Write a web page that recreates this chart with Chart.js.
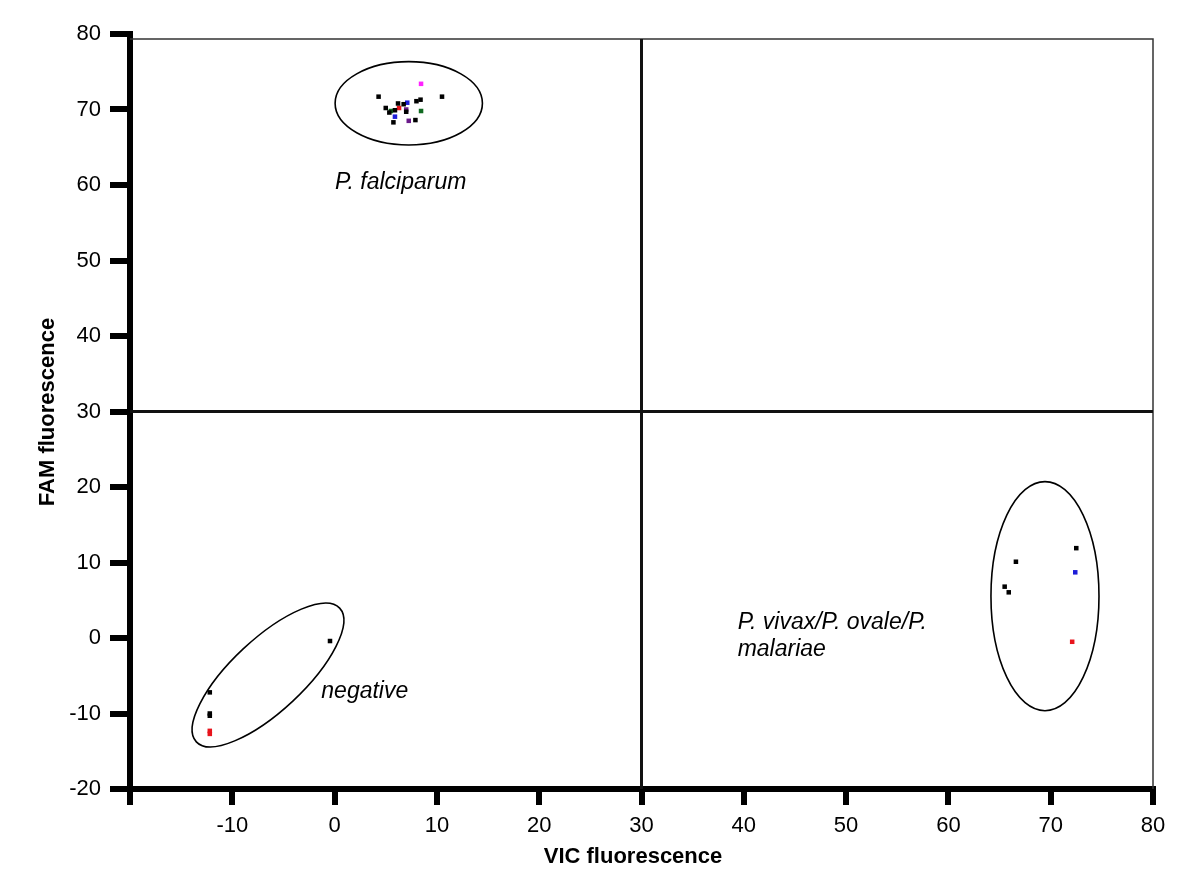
<!DOCTYPE html>
<html>
<head>
<meta charset="utf-8">
<script src="https://cdn.jsdelivr.net/npm/chart.js@4/dist/chart.umd.min.js"></script>
<style>
html,body{margin:0;padding:0;background:#fff;}
#wrap{width:1200px;height:888px;}
</style>
</head>
<body>
<div id="wrap"><canvas id="c" width="1200" height="888"></canvas></div>
<script>
// ---- data (VIC = x, FAM = y) ----
const tickValues = [-20, -10, 0, 10, 20, 30, 40, 50, 60, 70, 80];
const blackVIC = [4.3, 10.5, 5.0, 5.35, 5.9, 6.2, 6.75, 7.0, 5.75, 7.9, 8.0, 8.4, 72.5, 66.6, 65.5, 65.9, -0.45, -12.2, -12.2, -12.2];
const blackFAM = [71.7, 71.7, 70.2, 69.6, 69.9, 70.8, 70.7, 69.7, 68.3, 68.6, 71.1, 71.3, 11.9, 10.1, 6.8, 6.05, -0.4, -7.2, -10.0, -10.3];
const redVIC = [6.3, 72.1, -12.2, -12.2];
const redFAM = [70.2, -0.5, -12.3, -12.7];
const blueVIC = [5.9, 72.4, 7.1];
const blueFAM = [69.05, 8.7, 70.9];
const magentaVIC = [8.45];
const magentaFAM = [73.4];
const greenVIC = [8.45, 5.5];
const greenFAM = [69.8, 69.8];
const purpleVIC = [7.0, 7.25];
const purpleFAM = [70.0, 68.5];
const thresholdVIC = 30;
const thresholdFAM = 30;
const xTitle = 'VIC fluorescence';
const yTitle = 'FAM fluorescence';
const groupLabels = [
  {lines: ['P. falciparum'], x: 0.05, y: 60.3},
  {lines: ['negative'], x: -1.3, y: -7.15},
  {lines: ['P. vivax/P. ovale/P.', 'malariae'], x: 39.4, y: 2.1}
];
// cluster ellipses: centre in data units; rx/ry in axis units; rot in degrees
const clusterEllipses = [
  {cx: 7.25, cy: 70.82, rx: 7.2, ry: 5.52, rot: 0},
  {cx: 69.44, cy: 5.54, rx: 5.28, ry: 15.17, rot: 0},
  {cx: -6.51, cy: -4.9, a: 98, b: 36, rot: -43}
];

const zip = (xs, ys) => xs.map((v, i) => ({x: v, y: ys[i]}));
const FONT = '"Liberation Sans", Arial, Helvetica, sans-serif';

function mkSet(label, xs, ys, color) {
  return {label, data: zip(xs, ys), backgroundColor: color, borderColor: color,
    pointStyle: 'rect', pointRadius: 3.2, pointBorderWidth: 0, pointHoverRadius: 3.2};
}

const deco = {
  id: 'deco',
  beforeDatasetsDraw(chart) {
    const {ctx, chartArea: ca, scales: {x, y}} = chart;
    const pxX = x.getPixelForValue(1) - x.getPixelForValue(0);
    const pxY = y.getPixelForValue(0) - y.getPixelForValue(1);
    ctx.save();
    // thin frame top/right
    ctx.strokeStyle = '#333';
    ctx.lineWidth = 1.5;
    ctx.beginPath();
    ctx.moveTo(ca.left, ca.top + 5);
    ctx.lineTo(ca.right, ca.top + 5);
    ctx.lineTo(ca.right, ca.bottom);
    ctx.stroke();
    // quadrant lines
    ctx.strokeStyle = '#111';
    ctx.lineWidth = 3;
    const qx = x.getPixelForValue(thresholdVIC), qy = y.getPixelForValue(thresholdFAM);
    ctx.beginPath();
    ctx.moveTo(qx, ca.top + 5); ctx.lineTo(qx, ca.bottom);
    ctx.moveTo(ca.left, qy); ctx.lineTo(ca.right, qy);
    ctx.stroke();
    // ellipses
    ctx.strokeStyle = '#000';
    ctx.lineWidth = 1.6;
    clusterEllipses.forEach(e => {
      const cx = x.getPixelForValue(e.cx), cy = y.getPixelForValue(e.cy);
      const rx = e.a !== undefined ? e.a : e.rx * pxX;
      const ry = e.b !== undefined ? e.b : e.ry * pxY;
      ctx.beginPath();
      ctx.ellipse(cx, cy, rx, ry, e.rot * Math.PI / 180, 0, Math.PI * 2);
      ctx.stroke();
    });
    // group labels
    ctx.fillStyle = '#000';
    ctx.font = 'italic 23px ' + FONT;
    ctx.textAlign = 'left';
    ctx.textBaseline = 'middle';
    groupLabels.forEach(g => {
      const lx = x.getPixelForValue(g.x), ly = y.getPixelForValue(g.y);
      g.lines.forEach((t, i) => ctx.fillText(t, lx, ly + i * 27));
    });
    // axis titles
    ctx.font = 'bold 22px ' + FONT;
    ctx.textAlign = 'center';
    ctx.fillText(xTitle, 633, 857);
    ctx.save();
    ctx.translate(48, 412);
    ctx.rotate(-Math.PI / 2);
    ctx.fillText(yTitle, 0, 0);
    ctx.restore();
    ctx.restore();
  }
};

const axisCommon = {
  type: 'linear', min: -20, max: 80,
  afterBuildTicks: s => { s.ticks = tickValues.map(v => ({value: v})); },
  grid: {drawOnChartArea: false, drawTicks: true, lineWidth: 6, color: '#000'},
  border: {display: true, width: 6, color: '#000'}
};

new Chart(document.getElementById('c'), {
  type: 'scatter',
  data: {datasets: [
    mkSet('black', blackVIC, blackFAM, '#000000'),
    mkSet('red', redVIC, redFAM, '#e8141c'),
    mkSet('blue', blueVIC, blueFAM, '#1c1cd8'),
    mkSet('magenta', magentaVIC, magentaFAM, '#ff22ff'),
    mkSet('green', greenVIC, greenFAM, '#106a20'),
    mkSet('purple', purpleVIC, purpleFAM, '#6a1a8a')
  ]},
  options: {
    responsive: false, animation: false, devicePixelRatio: 1,
    layout: {padding: {left: 0, top: 34, right: 47, bottom: 0}},
    plugins: {legend: {display: false}, tooltip: {enabled: false}},
    scales: {
      x: Object.assign({}, axisCommon, {
        position: 'bottom',
        grid: Object.assign({}, axisCommon.grid, {tickLength: 16}),
        ticks: {font: {family: FONT, size: 22}, color: '#000', padding: 8, maxRotation: 0,
          callback: v => v === -20 ? '' : String(v)},
        afterFit: s => { s.height = 99; }
      }),
      y: Object.assign({}, axisCommon, {
        position: 'left',
        grid: Object.assign({}, axisCommon.grid, {tickLength: 20}),
        ticks: {font: {family: FONT, size: 22}, color: '#000', padding: 9},
        afterFit: s => { s.width = 130; }
      })
    }
  },
  plugins: [deco]
});
</script>
</body>
</html>
